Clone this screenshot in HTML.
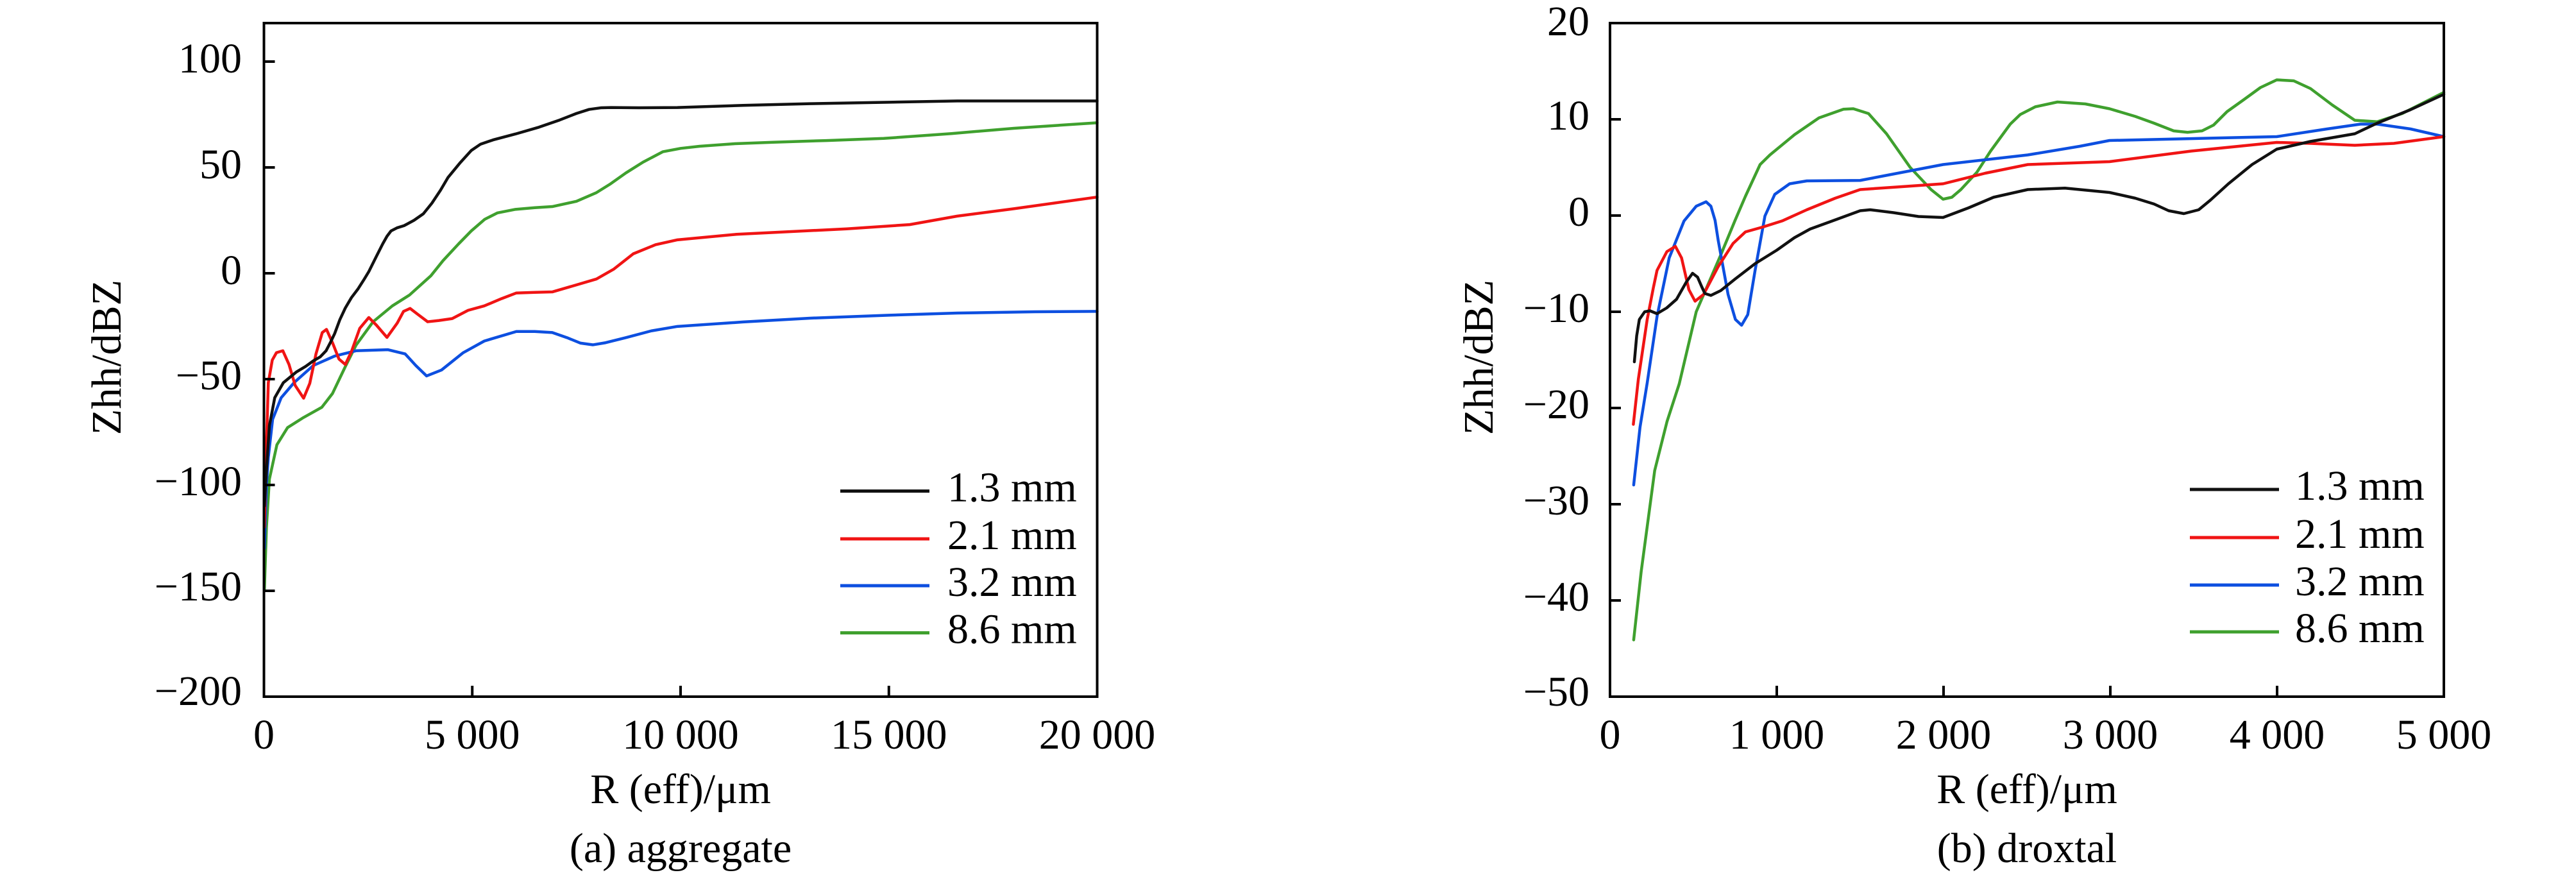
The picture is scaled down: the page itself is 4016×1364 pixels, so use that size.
<!DOCTYPE html>
<html><head><meta charset="utf-8"><style>
html,body{margin:0;padding:0;background:#fff;}
svg{display:block;}
text{font-family:"Liberation Serif","Times New Roman",serif;fill:#000;}
.t{font-size:66px;}
.a{font-size:66px;}
.c{fill:none;stroke-width:4.5;stroke-linejoin:round;stroke-linecap:round;}
.k{stroke:#111;}
.r{stroke:#f01414;}
.b{stroke:#0d4fe0;}
.g{stroke:#3fa02e;}
</style></head><body>
<svg width="4016" height="1364" viewBox="0 0 4016 1364" xmlns="http://www.w3.org/2000/svg">
<rect width="4016" height="1364" fill="#fff"/>

<!-- ============ LEFT PLOT ============ -->
<g transform="translate(411.5 426) scale(0.06495 -3.3)">
<polyline class="c g" vector-effect="non-scaling-stroke" points="10,-150 60,-120 131,-97.2 311,-81 567,-72.9 927,-68.4 1389,-63.3 1645,-56.8 1953,-44.1 2209,-34 2620,-22.9 3082,-15.4 3492,-10.3 4006,-1.2 4300,6 4673,13.9 4976,20 5300,25.5 5600,28.5 6037,30.2 6500,31 6921,31.5 7500,34 7981,38.1 8300,42 8688,47.4 9100,52.5 9572,57.4 10000,59 10456,60 11300,61.2 12223,61.9 13500,62.7 14875,63.7 16500,66 18000,68.5 20000,71.1"/>
<polyline class="c b" vector-effect="non-scaling-stroke" points="10,-130 60,-100 105,-87 208,-69 413,-58.8 721,-51.7 1183,-43.6 1697,-39.1 2209,-36.6 2979,-36.1 3390,-38.1 3646,-43.6 3903,-48.5 4262,-45.7 4776,-37.6 5289,-32 6059,-27.5 6500,-27.5 6921,-28 7274,-30.4 7600,-33 7893,-33.8 8200,-32.8 8688,-30.4 9300,-27.2 9926,-25.1 11500,-23 13107,-21.2 15000,-19.8 16642,-18.8 18500,-18.2 20000,-18"/>
<polyline class="c r" vector-effect="non-scaling-stroke" points="10,-120 54,-85 105,-51.7 200,-41 300,-37.5 454,-36.6 600,-43 750,-53 952,-59 1100,-52 1250,-38 1400,-28 1501,-26.5 1650,-33 1800,-40.5 1953,-43.1 2100,-37 2300,-26 2517,-20.9 2700,-24.5 2953,-30.3 3200,-23.5 3350,-18 3508,-16.6 3700,-19.5 3929,-22.9 4200,-22.3 4519,-21.4 4900,-17.5 5289,-15.4 5700,-12 6059,-9.3 6500,-9 6921,-8.8 7500,-5.5 7981,-2.7 8400,2 8865,9.2 9400,13.5 9926,15.8 11340,18.4 13989,21 15500,23 16642,27 18000,30.5 20000,36"/>
<polyline class="c k" vector-effect="non-scaling-stroke" points="10,-110 70,-90 131,-72 259,-58.8 465,-51.7 773,-46.7 1000,-44 1183,-41.4 1350,-39.5 1491,-36.6 1600,-32.5 1697,-28.5 1820,-22 1953,-16.4 2100,-11.5 2261,-7.3 2400,-3 2517,0.8 2697,7.9 2851,13.9 2954,17.5 3050,20 3200,21.5 3364,22.5 3600,25 3826,28.1 4031,33.1 4237,39.2 4416,45.2 4700,52 4976,58 5200,61 5500,63 6037,65.8 6600,69 7098,72.4 7500,75.5 7805,77.4 8100,78.2 8335,78.3 9000,78.2 9926,78.3 11500,79.3 13107,80.1 15000,80.8 16642,81.4 20000,81.4"/>
</g>

<rect x="411.5" y="36" width="1299" height="1050" fill="none" stroke="#000" stroke-width="4"/>
<g stroke="#000" stroke-width="4">
<line x1="411.5" y1="96" x2="428.5" y2="96"/>
<line x1="411.5" y1="261" x2="428.5" y2="261"/>
<line x1="411.5" y1="426" x2="428.5" y2="426"/>
<line x1="411.5" y1="591" x2="428.5" y2="591"/>
<line x1="411.5" y1="756" x2="428.5" y2="756"/>
<line x1="411.5" y1="921" x2="428.5" y2="921"/>
<line x1="736.25" y1="1086" x2="736.25" y2="1069"/>
<line x1="1061" y1="1086" x2="1061" y2="1069"/>
<line x1="1385.75" y1="1086" x2="1385.75" y2="1069"/>
</g>
<g class="t" text-anchor="end">
<text x="377" y="113">100</text>
<text x="377" y="278">50</text>
<text x="377" y="443">0</text>
<text x="377" y="607">−50</text>
<text x="377" y="772">−100</text>
<text x="377" y="936">−150</text>
<text x="377" y="1099">−200</text>
</g>
<g class="t" text-anchor="middle">
<text x="411.5" y="1167">0</text>
<text x="736.25" y="1167">5 000</text>
<text x="1061" y="1167">10 000</text>
<text x="1385.75" y="1167">15 000</text>
<text x="1710.5" y="1167">20 000</text>
</g>
<text class="a" x="1061" y="1252" text-anchor="middle">R (eff)/μm</text>
<text class="a" x="1061" y="1344" text-anchor="middle">(a) aggregate</text>
<text class="a" transform="translate(188 557) rotate(-90)" text-anchor="middle">Zhh/dBZ</text>

<g stroke-width="5">
<line x1="1310" y1="765.5" x2="1449" y2="765.5" stroke="#111"/>
<line x1="1310" y1="840" x2="1449" y2="840" stroke="#f01414"/>
<line x1="1310" y1="913" x2="1449" y2="913" stroke="#0d4fe0"/>
<line x1="1310" y1="986.5" x2="1449" y2="986.5" stroke="#3fa02e"/>
</g>
<g class="t">
<text x="1477" y="781.5">1.3 mm</text>
<text x="1477" y="856">2.1 mm</text>
<text x="1477" y="929">3.2 mm</text>
<text x="1477" y="1002.5">8.6 mm</text>
</g>

<!-- ============ RIGHT PLOT ============ -->
<g transform="translate(2510 336) scale(0.26 -15)">
<polyline class="c g" vector-effect="non-scaling-stroke" points="142,-44.1 187,-37 268,-26.5 342,-21.4 415,-17.5 517,-10 664,-4.1 750,-0.5 812,2.0 900,5.3 959,6.3 1106,8.4 1253,10.15 1400,11.05 1459,11.1 1550,10.6 1658,8.5 1800,5.0 1925,2.7 1997,1.7 2050,1.9 2104,2.7 2200,4.5 2282,6.7 2400,9.5 2460,10.5 2550,11.3 2683,11.8 2850,11.6 2995,11.1 3150,10.3 3262,9.6 3380,8.8 3463,8.65 3550,8.8 3619,9.4 3700,10.8 3797,12.0 3900,13.3 3998,14.1 4100,14.0 4200,13.2 4330,11.5 4466,9.9 4600,9.75 4750,10.6 5000,12.8"/>
<polyline class="c b" vector-effect="non-scaling-stroke" points="142,-28 180,-22 223,-17.4 282,-10.5 355,-4.4 444,-0.56 517,0.97 576,1.43 605,0.97 630,-0.5 649,-2.6 708,-8.2 752,-10.8 789,-11.4 826,-10.3 870,-5.7 929,-0.05 988,2.2 1077,3.3 1180,3.6 1500,3.65 1997,5.3 2505,6.3 2817,7.2 2995,7.8 3500,8.0 3998,8.2 4300,9.0 4500,9.5 4600,9.5 4800,9.0 5000,8.2"/>
<polyline class="c r" vector-effect="non-scaling-stroke" points="140,-21.7 170,-17 223,-10.8 260,-7.5 282,-5.7 341,-3.75 392,-3.2 429,-4.4 473,-7.7 510,-8.9 561,-8.2 649,-5.3 738,-2.9 812,-1.7 915,-1.2 1032,-0.56 1180,0.6 1350,1.8 1500,2.7 1750,3.0 1997,3.3 2250,4.4 2505,5.3 2995,5.6 3485,6.7 3998,7.6 4200,7.5 4466,7.3 4700,7.5 5000,8.2"/>
<polyline class="c k" vector-effect="non-scaling-stroke" points="146,-15.2 160,-12.5 176,-10.8 208,-10 240,-9.9 282,-10.2 340,-9.6 399,-8.7 458,-6.9 495,-6.0 525,-6.4 550,-7.4 569,-8.1 605,-8.3 664,-7.8 750,-6.6 870,-5.0 1000,-3.6 1106,-2.3 1200,-1.4 1327,-0.6 1500,0.5 1560,0.6 1700,0.3 1850,-0.1 1997,-0.2 2150,0.8 2300,1.9 2505,2.7 2728,2.85 2995,2.4 3150,1.8 3262,1.2 3350,0.5 3441,0.2 3530,0.6 3600,1.6 3708,3.3 3850,5.3 3998,6.9 4200,7.7 4466,8.5 4600,9.6 4800,11 5000,12.6"/>
</g>

<rect x="2510" y="36" width="1300" height="1050" fill="none" stroke="#000" stroke-width="4"/>
<g stroke="#000" stroke-width="4">
<line x1="2510" y1="186" x2="2527" y2="186"/>
<line x1="2510" y1="336" x2="2527" y2="336"/>
<line x1="2510" y1="486" x2="2527" y2="486"/>
<line x1="2510" y1="636" x2="2527" y2="636"/>
<line x1="2510" y1="786" x2="2527" y2="786"/>
<line x1="2510" y1="936" x2="2527" y2="936"/>
<line x1="2770" y1="1086" x2="2770" y2="1069"/>
<line x1="3030" y1="1086" x2="3030" y2="1069"/>
<line x1="3290" y1="1086" x2="3290" y2="1069"/>
<line x1="3550" y1="1086" x2="3550" y2="1069"/>
</g>
<g class="t" text-anchor="end">
<text x="2478" y="55">20</text>
<text x="2478" y="202">10</text>
<text x="2478" y="352">0</text>
<text x="2478" y="502">−10</text>
<text x="2478" y="652">−20</text>
<text x="2478" y="802">−30</text>
<text x="2478" y="952">−40</text>
<text x="2478" y="1100">−50</text>
</g>
<g class="t" text-anchor="middle">
<text x="2510" y="1167">0</text>
<text x="2770" y="1167">1 000</text>
<text x="3030" y="1167">2 000</text>
<text x="3290" y="1167">3 000</text>
<text x="3550" y="1167">4 000</text>
<text x="3810" y="1167">5 000</text>
</g>
<text class="a" x="3160" y="1252" text-anchor="middle">R (eff)/μm</text>
<text class="a" x="3160" y="1344" text-anchor="middle">(b) droxtal</text>
<text class="a" transform="translate(2327 557) rotate(-90)" text-anchor="middle">Zhh/dBZ</text>

<g stroke-width="5">
<line x1="3414" y1="763" x2="3553" y2="763" stroke="#111"/>
<line x1="3414" y1="838" x2="3553" y2="838" stroke="#f01414"/>
<line x1="3414" y1="912" x2="3553" y2="912" stroke="#0d4fe0"/>
<line x1="3414" y1="985" x2="3553" y2="985" stroke="#3fa02e"/>
</g>
<g class="t">
<text x="3578" y="779">1.3 mm</text>
<text x="3578" y="854">2.1 mm</text>
<text x="3578" y="928">3.2 mm</text>
<text x="3578" y="1001">8.6 mm</text>
</g>
</svg>
</body></html>
